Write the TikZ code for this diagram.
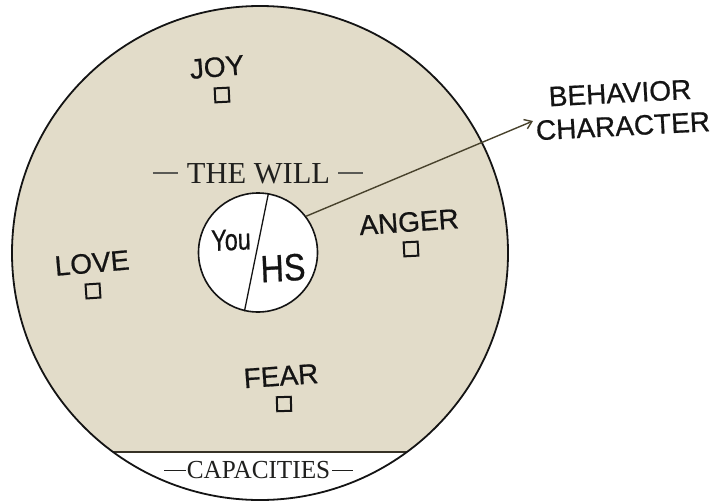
\documentclass[tikz,border=0pt]{standalone}
\usepackage{fontspec}
\setmainfont{Liberation Serif}
\newfontfamily\handfont[FakeBold=0.7]{Liberation Sans}
\usetikzlibrary{arrows.meta}
\definecolor{beige}{RGB}{226,220,201}
\definecolor{ink}{RGB}{20,20,20}
\definecolor{chordc}{RGB}{55,50,38}
\definecolor{arrowc}{RGB}{72,66,44}
\definecolor{dashc}{RGB}{90,90,85}
\definecolor{serifc}{RGB}{32,32,30}
\begin{document}
\begin{tikzpicture}[x=1pt,y=-1pt,
  hand/.style={font=\handfont\fontsize{28}{30}\selectfont, text=ink, inner sep=0pt},
  box/.style={draw=ink, line width=2pt, minimum size=14pt, inner sep=0pt},
  serif/.style={text=serifc, inner sep=0pt, anchor=base}]
\useasboundingbox (0,0) rectangle (712,501);
% outer circle
\coordinate (oc) at (260,253);
\fill[beige] (oc) ellipse [x radius=248pt, y radius=247pt];
\begin{scope}
  \clip (oc) ellipse [x radius=248pt, y radius=247pt];
  \fill[white] (0,452) rectangle (712,510);
  \draw[chordc, line width=2.4pt] (0,452) -- (712,452);
\end{scope}
\draw[ink, line width=1.8pt] (oc) ellipse [x radius=248pt, y radius=247pt];

% the will
\node[serif, font=\fontsize{30.5}{32}\selectfont] (willtxt) at (258,183)
  {\textcolor{dashc}{\rule[9pt]{25pt}{1.6pt}}\hspace{9pt}THE WILL\hspace{8pt}\textcolor{dashc}{\rule[9pt]{25pt}{1.6pt}}};
\node[serif, font=\fontsize{26}{28}\selectfont, xscale=0.97] (cap) at (258.5,478)
  {\textcolor{serifc}{\rule[7pt]{22pt}{1.5pt}}\hspace{1pt}CAPACITIES\hspace{2pt}\textcolor{serifc}{\rule[7pt]{21pt}{1.5pt}}};

% inner circle
\node[circle, draw=ink, line width=1.6pt, fill=white, minimum size=119pt, inner sep=0pt] (core) at (258,252.5) {};
\draw[ink, line width=1.3pt] (core.80) -- (core.257);
\node[hand, font=\handfont\fontsize{30}{32}\selectfont, xscale=0.78, rotate=2] (you) at (231,240) {You};
\node[hand, font=\handfont\fontsize{38}{40}\selectfont, xscale=0.85, rotate=3] (hs) at (283,268) {HS};

% arrow
\coordinate (tip) at (533,121);
\draw[arrowc, line width=1.4pt, -{Straight Barb[length=7pt,width=10pt]}] (core.37) -- (tip);
\node[hand, rotate=3] (beh) at (620,93) {BEHAVIOR};
\node[hand, rotate=3] (chr) at (623,126) {CHARACTER};

% emotions
\node[hand, rotate=5] (joy) at (217,67) {JOY};
\node[box, rotate=3] (joyb) at (222,95) {};
\node[hand, rotate=4] (anger) at (409,222) {ANGER};
\node[box, rotate=3] (angerb) at (411,249) {};
\node[hand, rotate=5] (love) at (92,263) {LOVE};
\node[box, rotate=4] (loveb) at (93,291) {};
\node[hand, rotate=4] (fear) at (281,376) {FEAR};
\node[box, rotate=2] (fearb) at (284,404) {};
\end{tikzpicture}
\end{document}
